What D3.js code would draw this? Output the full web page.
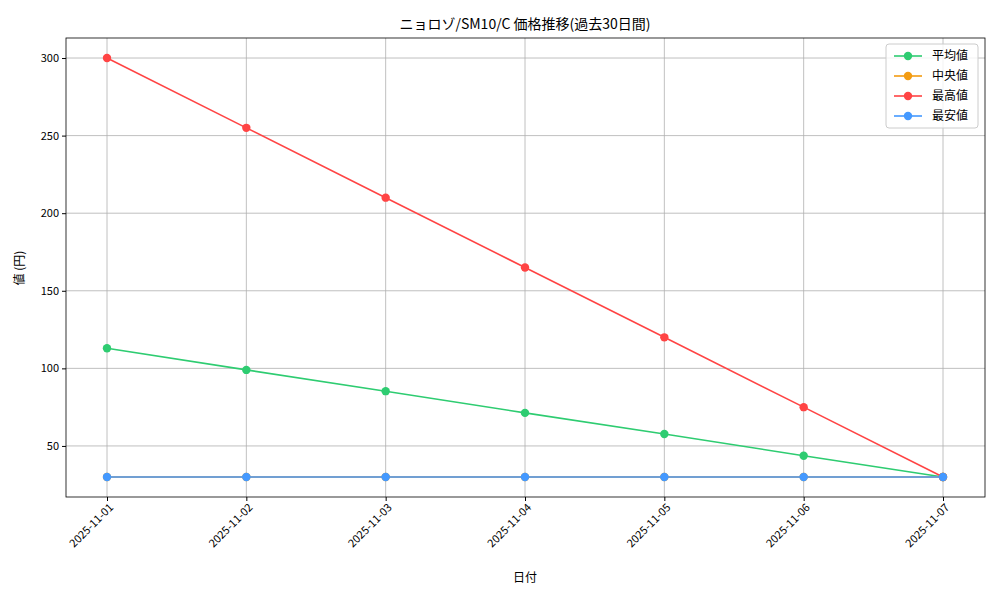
<!DOCTYPE html>
<html><head><meta charset="utf-8">
<script src="https://cdn.jsdelivr.net/npm/d3@7"></script>
<style>body{margin:0;background:#fff}text{font-family:"Noto Sans CJK JP",sans-serif}</style>
</head><body>
<script>
const dates = ['2025-11-01','2025-11-02','2025-11-03','2025-11-04','2025-11-05','2025-11-06','2025-11-07']
const avgValues = [113, 99, 85.3, 71.3, 57.7, 43.7, 30]
const medianValues = [30, 30, 30, 30, 30, 30, 30]
const maxValues = [300, 255, 210, 165, 120, 75, 30]
const minValues = [30, 30, 30, 30, 30, 30, 30]
const yTicks = [50, 100, 150, 200, 250, 300]

const series = [
  { name: '平均値', color: '#2ecc71', values: avgValues },
  { name: '中央値', color: '#f39c12', values: medianValues },
  { name: '最高値', color: '#ff4444', values: maxValues },
  { name: '最安値', color: '#4499ff', values: minValues }
]

const plotLeft = 66, plotRight = 985, plotTop = 38, plotBottom = 497

const svg = d3.select('body').append('svg').attr('width', 1000).attr('height', 600)

const x = d3.scalePoint().domain(dates).range([107, 943])
const y = d3.scaleLinear().domain([17.1, 312.9]).range([plotBottom, plotTop])

// grid
svg.append('g').selectAll('line').data(dates).enter().append('line')
   .attr('x1', d => x(d)).attr('x2', d => x(d)).attr('y1', plotTop).attr('y2', plotBottom)
   .attr('stroke', '#b0b0b0').attr('stroke-width', 0.8)
svg.append('g').selectAll('line').data(yTicks).enter().append('line')
   .attr('x1', plotLeft).attr('x2', plotRight).attr('y1', d => y(d)).attr('y2', d => y(d))
   .attr('stroke', '#b0b0b0').attr('stroke-width', 0.8)

// axes
const xAxis = svg.append('g').attr('transform', `translate(0,${plotBottom})`)
   .call(d3.axisBottom(x).tickSizeOuter(0).tickSize(4))
xAxis.selectAll('text').attr('font-size', 11).attr('fill', '#000')
   .attr('text-anchor', 'end').attr('dx', '-0.3em').attr('dy', '0.5em')
   .attr('transform', 'rotate(-45)')
const yAxis = svg.append('g').attr('transform', `translate(${plotLeft},0)`)
   .call(d3.axisLeft(y).tickValues(yTicks).tickSizeOuter(0).tickSize(4))
yAxis.selectAll('text').attr('font-size', 11).attr('fill', '#000')
svg.selectAll('.domain').remove()
svg.append('rect').attr('x', plotLeft).attr('y', plotTop)
   .attr('width', plotRight - plotLeft).attr('height', plotBottom - plotTop)
   .attr('fill', 'none').attr('stroke', '#000').attr('stroke-width', 0.8)

// lines
const line = d3.line().x((d, i) => x(dates[i])).y(d => y(d))
series.forEach(s => {
  svg.append('path').datum(s.values).attr('d', line)
     .attr('fill', 'none').attr('stroke', s.color).attr('stroke-width', 1.6)
  svg.append('g').selectAll('circle').data(s.values).enter().append('circle')
     .attr('cx', (d, i) => x(dates[i])).attr('cy', d => y(d)).attr('r', 4.2).attr('fill', s.color)
})

// labels
svg.append('text').attr('x', 525).attr('y', 29).attr('text-anchor', 'middle').attr('font-size', 14)
   .text('ニョロゾ/SM10/C 価格推移(過去30日間)')
svg.append('text').attr('x', 525).attr('y', 582).attr('text-anchor', 'middle').attr('font-size', 12).text('日付')
svg.append('text').attr('transform', 'translate(24,268) rotate(-90)').attr('text-anchor', 'middle')
   .attr('font-size', 12).text('値 (円)')

// legend
const lg = svg.append('g').attr('transform', 'translate(886,44)')
lg.append('rect').attr('width', 92).attr('height', 84).attr('rx', 3)
  .attr('fill', '#fff').attr('fill-opacity', 0.8).attr('stroke', '#ccc')
series.forEach((s, i) => {
  const gy = 12 + i * 20
  lg.append('line').attr('x1', 8).attr('x2', 36).attr('y1', gy).attr('y2', gy)
    .attr('stroke', s.color).attr('stroke-width', 1.6)
  lg.append('circle').attr('cx', 22).attr('cy', gy).attr('r', 4.2).attr('fill', s.color)
  lg.append('text').attr('x', 46).attr('y', gy + 4).attr('font-size', 12).text(s.name)
})
</script>
</body></html>
